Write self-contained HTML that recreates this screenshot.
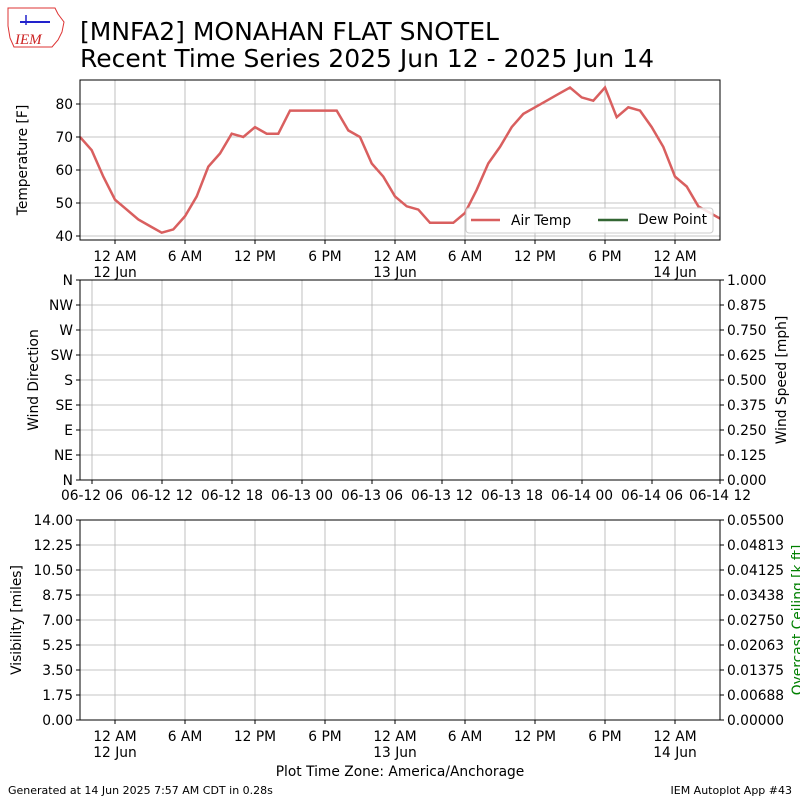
<!DOCTYPE html>
<html><head><meta charset="utf-8"><style>
body{margin:0;background:#fff;}
svg{display:block;font-family:"DejaVu Sans","Liberation Sans",sans-serif;}
</style></head><body>
<svg id="c" width="800" height="800" viewBox="0 0 800 800">
<g>
<path d="M8 8 L55 8 L58 14 L64 22 L62 32 L58 40 L52 47 L14 47 L10 38 L8 26 Z" fill="#fff" stroke="#d33" stroke-width="1"/>
<line x1="20" y1="22" x2="50" y2="22" stroke="#22c" stroke-width="2"/>
<line x1="26" y1="15" x2="26" y2="25" stroke="#22c" stroke-width="1.5"/>
<text x="15" y="44" font-family="Liberation Serif,serif" font-style="italic" font-size="15" fill="#c22">IEM</text>
</g>
<text x="80" y="40" font-size="25" fill="#000">[MNFA2] MONAHAN FLAT SNOTEL</text>
<text x="80" y="67" font-size="25" fill="#000">Recent Time Series 2025 Jun 12 - 2025 Jun 14</text>
<g id="g"></g>
<text x="8" y="794" font-size="11">Generated at 14 Jun 2025 7:57 AM CDT in 0.28s</text>
<text x="792" y="794" font-size="11" text-anchor="end">IEM Autoplot App #43</text>
</svg>
<script>
const temps=[70,66,58,51,48,45,43,41,42,46,52,61,65,71,70,73,71,71,78,78,78,78,78,72,70,62,58,52,49,48,44,44,44,47,54,62,67,73,77,79,81,83,85,82,81,85,76,79,78,73,67,58,55,49,47,45];
const tempTicks=[40,50,60,70,80];
const timeTickLabels=["12 AM","6 AM","12 PM","6 PM","12 AM","6 AM","12 PM","6 PM","12 AM"];
const timeTickDates=["12 Jun","","","","13 Jun","","","","14 Jun"];
const windLabels=["N","NE","E","SE","S","SW","W","NW","N"];
const speedLabels=["0.000","0.125","0.250","0.375","0.500","0.625","0.750","0.875","1.000"];
const midTickLabels=["06-12 06","06-12 12","06-12 18","06-13 00","06-13 06","06-13 12","06-13 18","06-14 00","06-14 06","06-14 12"];
const visLabels=["0.00","1.75","3.50","5.25","7.00","8.75","10.50","12.25","14.00"];
const ceilLabels=["0.00000","0.00688","0.01375","0.02063","0.02750","0.03438","0.04125","0.04813","0.05500"];
const NS="http://www.w3.org/2000/svg";
const g=document.getElementById('g');
function el(t,a,txt){const e=document.createElementNS(NS,t);for(const k in a)e.setAttribute(k,a[k]);if(txt!==undefined)e.textContent=txt;g.appendChild(e);return e;}
const L=80,R=720;
const xH=h=>L+(h)*(70/6);
const yT=v=>236-(v-40)*3.3;
function grid(x1,y1,x2,y2){const e=el('line',{x1,y1,x2,y2,stroke:'#b0b0b0','stroke-width':0.8});}
function frame(top,bot,name){const e=el('rect',{x:L,y:top,width:R-L,height:bot-top,fill:'none',stroke:'#000','stroke-width':1});}
function txt(x,y,s,opt){const e=el('text',Object.assign({x,y,'font-size':13.8},opt||{}),s);return e;}
for(const v of tempTicks){const y=yT(v);grid(L,y,R,y);el('line',{x1:L-4,y1:y,x2:L,y2:y,stroke:'#000'});
const t=txt(L-7,y+5,String(v),{'text-anchor':'end'});}
function timeAxis(top,bot){timeTickLabels.forEach((lb,i)=>{const x=xH(3+6*i);grid(x,top,x,bot);el('line',{x1:x,y1:bot,x2:x,y2:bot+4,stroke:'#000'});
const t=txt(x,bot+21,lb,{'text-anchor':'middle'});
if(timeTickDates[i]){const d=txt(x,bot+37,timeTickDates[i],{'text-anchor':'middle'});}});}
timeAxis(80,240);
const cp=el('clipPath',{id:'cp'});const cr=document.createElementNS(NS,'rect');cr.setAttribute('x',L);cr.setAttribute('y',80);cr.setAttribute('width',R-L);cr.setAttribute('height',160);cp.appendChild(cr);
const line=el('path',{d:temps.map((v,i)=>(i?'L':'M')+xH(i).toFixed(1)+' '+yT(v).toFixed(1)).join(' '),fill:'none',stroke:'#d95f5f','stroke-width':2.5,'clip-path':'url(#cp)'});

frame(80,240,'temperature-panel');
const yl=txt(0,0,'Temperature [F]',{transform:'translate(27,160) rotate(-90)','text-anchor':'middle'});
const lg=el('rect',{x:466,y:208,width:247,height:25,fill:'#fff','fill-opacity':0.85,stroke:'#ccc',rx:3});
el('line',{x1:471,y1:220,x2:500,y2:220,stroke:'#d95f5f','stroke-width':2.5});
const l1=txt(511,225,'Air Temp');
el('line',{x1:598,y1:220,x2:628,y2:220,stroke:'#336633','stroke-width':2.5});
const l2=txt(638,224,'Dew Point');
windLabels.forEach((lb,i)=>{const y=480-i*25;grid(L,y,R,y);el('line',{x1:L-4,y1:y,x2:L,y2:y,stroke:'#000'});el('line',{x1:R,y1:y,x2:R+4,y2:y,stroke:'#000'});
const t=txt(L-7,y+5,lb,{'text-anchor':'end'});
const s=txt(R+7,y+5,speedLabels[i]);});
midTickLabels.forEach((lb,i)=>{const x=Math.min(92+70*i,720);grid(x,280,x,480);el('line',{x1:x,y1:480,x2:x,y2:484,stroke:'#000'});
const t=txt(x,500,lb,{'text-anchor':'middle'});});
frame(280,480,'wind-panel');
const w1=txt(0,0,'Wind Direction',{transform:'translate(38,380) rotate(-90)','text-anchor':'middle'});
const w2=txt(0,0,'Wind Speed [mph]',{transform:'translate(786,380) rotate(-90)','text-anchor':'middle'});
visLabels.forEach((lb,i)=>{const y=720-i*25;grid(L,y,R,y);el('line',{x1:L-4,y1:y,x2:L,y2:y,stroke:'#000'});el('line',{x1:R,y1:y,x2:R+4,y2:y,stroke:'#000'});
const t=txt(L-7,y+5,lb,{'text-anchor':'end'});
const s=txt(R+7,y+5,ceilLabels[i]);});
timeAxis(520,720);
frame(520,720,'visibility-panel');
const v1=txt(0,0,'Visibility [miles]',{transform:'translate(21,620) rotate(-90)','text-anchor':'middle'});
const v2=txt(0,0,'Overcast Ceiling [k ft]',{transform:'translate(802,620) rotate(-90)','text-anchor':'middle',fill:'#008000'});
const xt=txt(400,776,'Plot Time Zone: America/Anchorage',{'text-anchor':'middle'});
</script>
</body></html>
